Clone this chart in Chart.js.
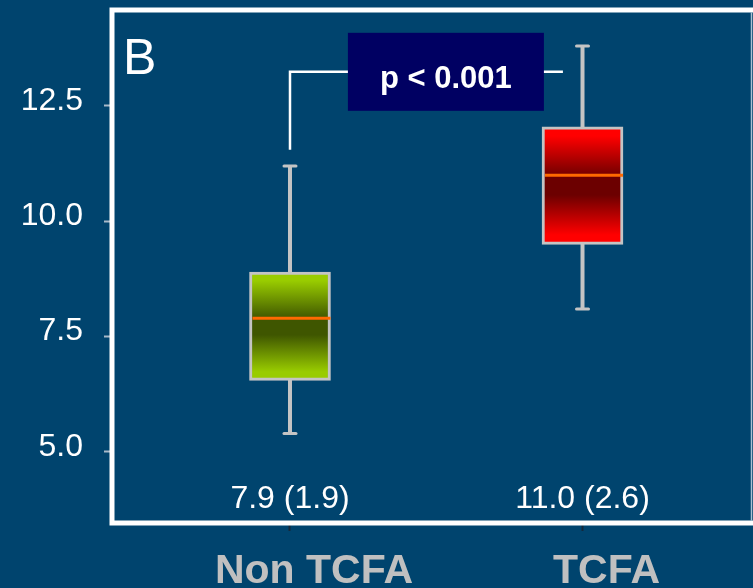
<!DOCTYPE html>
<html>
<head>
<meta charset="utf-8">
<script src="https://cdn.jsdelivr.net/npm/chart.js@4/dist/chart.umd.min.js"></script>
<style>
  html, body { margin: 0; padding: 0; background: #00446e; overflow: hidden; }
  #wrap { width: 753px; height: 588px; }
  canvas { display: block; }
</style>
</head>
<body>
<div id="wrap"><canvas id="chart" width="753" height="588"></canvas></div>
<script>
// Box plot summary per group
const groups = ['Non TCFA', 'TCFA'];
const groupX = [1, 2];
const whiskerLow = [5.4, 8.1];
const quartile1 = [6.55, 9.5];
const centreValues = [7.9, 11.0];
const quartile3 = [8.9, 12.05];
const whiskerHigh = [11.2, 13.8];
const sdValues = [1.9, 2.6];
const yTicks = [5.0, 7.5, 10.0, 12.5];
const pValueText = 'p < 0.001';
const panelLetter = 'B';

const FONT = '"Liberation Sans", Arial, Helvetica, sans-serif';
const BG = '#00446e';
const GREY = '#c4c4c4';
const boxColours = [['#99cc00', '#3f5600'], ['#ff0000', '#6c0000']];

// Vertical light-dark-light gradient spanning each box
function boxFill(ctx) {
  const chart = ctx.chart;
  const i = ctx.dataIndex;
  if (!chart.chartArea || i === undefined) return boxColours[0][0];
  const y = chart.scales.y;
  const top = y.getPixelForValue(quartile3[i]);
  const bot = y.getPixelForValue(quartile1[i]);
  const g = chart.ctx.createLinearGradient(0, top, 0, bot);
  const [light, dark] = boxColours[i];
  g.addColorStop(0, light);
  g.addColorStop(0.08, light);
  g.addColorStop(0.43, dark);
  g.addColorStop(0.58, dark);
  g.addColorStop(0.92, light);
  g.addColorStop(1, light);
  return g;
}

const boxPlotExtras = {
  id: 'boxPlotExtras',
  beforeDraw(chart) {
    const c = chart.ctx;
    c.save();
    c.fillStyle = BG;
    c.fillRect(0, 0, chart.width, chart.height);
    c.restore();
  },
  beforeDatasetsDraw(chart) {
    const c = chart.ctx, xs = chart.scales.x, ys = chart.scales.y;
    c.save();
    c.strokeStyle = GREY;
    groupX.forEach((gx, i) => {
      const x = xs.getPixelForValue(gx);
      const yLo = ys.getPixelForValue(whiskerLow[i]);
      const yHi = ys.getPixelForValue(whiskerHigh[i]);
      c.lineWidth = 4;
      c.lineCap = 'butt';
      c.beginPath();
      c.moveTo(x, yLo);
      c.lineTo(x, yHi);
      c.stroke();
      c.lineWidth = 3;
      c.lineCap = 'round';
      [yLo, yHi].forEach(yy => {
        c.beginPath();
        c.moveTo(x - 6, yy);
        c.lineTo(x + 6, yy);
        c.stroke();
      });
    });
    c.restore();
  },
  afterDatasetsDraw(chart) {
    const c = chart.ctx, xs = chart.scales.x, ys = chart.scales.y;
    const area = chart.chartArea;
    const meta = chart.getDatasetMeta(0);
    c.save();
    // centre lines inside the boxes
    c.strokeStyle = '#ff6a00';
    c.lineWidth = 3;
    groupX.forEach((gx, i) => {
      const bar = meta.data[i];
      const half = bar.width / 2;
      const yc = ys.getPixelForValue(centreValues[i]);
      c.beginPath();
      c.moveTo(bar.x - half + 3, yc);
      c.lineTo(bar.x + half, yc);
      c.stroke();
    });
    // summary text under each box
    c.fillStyle = '#ffffff';
    c.font = '32px ' + FONT;
    c.textAlign = 'center';
    c.textBaseline = 'alphabetic';
    groupX.forEach((gx, i) => {
      const x = xs.getPixelForValue(gx);
      c.fillText(centreValues[i].toFixed(1) + ' (' + sdValues[i].toFixed(1) + ')', x, area.bottom - 15);
    });
    // significance bracket
    const bracketY = ys.getPixelForValue(13.24);
    const bracketFoot = ys.getPixelForValue(11.55);
    const bx1 = xs.getPixelForValue(groupX[0]);
    const bx2 = xs.getPixelForValue(1.933);
    c.strokeStyle = '#ffffff';
    c.lineWidth = 2.5;
    c.lineCap = 'butt';
    c.beginPath();
    c.moveTo(bx1, bracketFoot);
    c.lineTo(bx1, bracketY);
    c.lineTo(bx2, bracketY);
    c.stroke();
    const cx = xs.getPixelForValue(1.533);
    c.fillStyle = '#000062';
    c.fillRect(cx - 98, bracketY - 39, 196, 78);
    c.fillStyle = '#ffffff';
    c.font = 'bold 31px ' + FONT;
    c.textAlign = 'center';
    c.fillText(pValueText, cx, bracketY + 16);
    // panel letter
    c.font = '50px ' + FONT;
    c.textAlign = 'left';
    c.fillText(panelLetter, area.left + 11, area.top + 64);
    c.restore();
  },
  afterDraw(chart) {
    const c = chart.ctx, a = chart.chartArea;
    c.save();
    c.strokeStyle = '#ffffff';
    c.lineWidth = 5;
    c.lineCap = 'butt';
    c.beginPath();
    c.moveTo(a.left - 2.5, a.top);
    c.lineTo(chart.width, a.top);
    c.moveTo(a.left, a.top - 2.5);
    c.lineTo(a.left, a.bottom + 2.5);
    c.moveTo(a.left - 2.5, a.bottom);
    c.lineTo(chart.width, a.bottom);
    c.stroke();
    c.strokeStyle = 'rgba(200,215,228,0.85)';
    c.lineWidth = 1.5;
    c.beginPath();
    c.moveTo(a.right + 0.5, a.top + 2.5);
    c.lineTo(a.right + 0.5, a.bottom - 2.5);
    c.stroke();
    c.restore();
  }
};

new Chart(document.getElementById('chart'), {
  type: 'bar',
  data: {
    datasets: [{
      label: 'Box',
      data: groupX.map((x, i) => ({ x: x, y: [quartile1[i], quartile3[i]] })),
      backgroundColor: boxFill,
      borderColor: GREY,
      borderWidth: 3,
      borderSkipped: false,
      barThickness: 81
    }]
  },
  options: {
    responsive: false,
    animation: false,
    devicePixelRatio: 1,
    layout: { padding: { top: 10, right: 2, left: 0, bottom: 0 } },
    plugins: { legend: { display: false }, tooltip: { enabled: false } },
    scales: {
      x: {
        type: 'linear',
        offset: false,
        min: 0.3915,
        max: 2.576,
        afterBuildTicks: s => { s.ticks = groupX.map(v => ({ value: v })); },
        afterFit: s => { s.height = 65; s.paddingLeft = 0; s.paddingRight = 0; },
        ticks: {
          color: '#c0c0c0',
          font: { family: FONT, size: 41, weight: 'bold' },
          padding: 16,
          labelOffset: 24,
          maxRotation: 0,
          autoSkip: false,
          callback: v => groups[groupX.indexOf(v)]
        },
        grid: { offset: false, drawOnChartArea: false, tickLength: 8, tickColor: '#15283a', tickWidth: 2 },
        border: { display: false }
      },
      y: {
        min: 3.46,
        max: 14.58,
        afterBuildTicks: s => { s.ticks = yTicks.map(v => ({ value: v })); },
        afterFit: s => { s.width = 112; s.paddingTop = 0; s.paddingBottom = 0; },
        ticks: {
          color: '#ffffff',
          font: { family: FONT, size: 32 },
          padding: 21,
          labelOffset: -5,
          callback: v => Number(v).toFixed(1)
        },
        grid: { drawOnChartArea: false, tickLength: 8, tickColor: '#a9b9c8', tickWidth: 2 },
        border: { display: false }
      }
    }
  },
  plugins: [boxPlotExtras]
});
</script>
</body>
</html>
